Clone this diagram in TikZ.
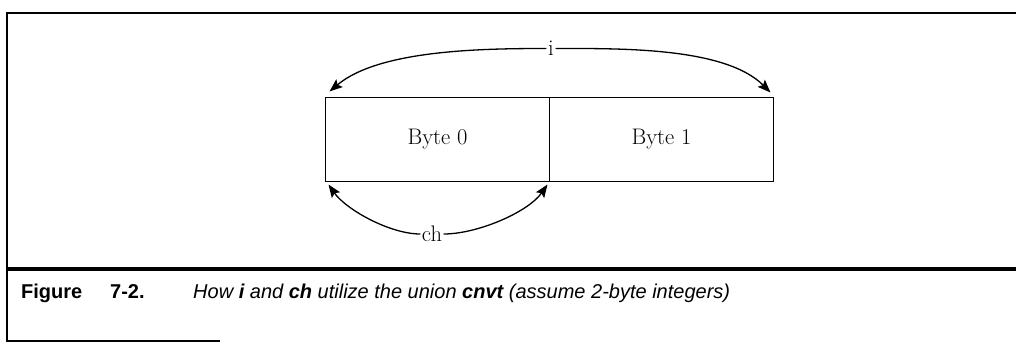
\documentclass[tikz,border=0pt]{standalone}
\usepackage{fontspec}
\newfontfamily\capfont{Liberation Sans}
\usetikzlibrary{calc,positioning,arrows.meta}

\tikzset{
  bytebox/.style={draw, line width=1.4pt, minimum width=224pt, minimum height=84pt,
                  inner sep=0pt, outer sep=0pt, font=\fontsize{22.5}{26}\selectfont},
  arclabel/.style={inner sep=1.5pt, font=\fontsize{22.5}{26}\selectfont},
  spanarc/.style={line width=1.3pt, looseness=0.75, -{Stealth[length=13pt,width=10pt,inset=2.5pt]}},
  captext/.style={anchor=base west, inner sep=0pt, font=\capfont\fontsize{20}{24}\selectfont},
}

\begin{document}
\begin{tikzpicture}[x=1pt,y=-1pt]
    \useasboundingbox (0,0) rectangle (1016,345);

    % frame round the figure
    \coordinate (frameTR) at (1016,13);
    \coordinate (frameTL) at (7,13);
    \coordinate (frameBL) at (7,341);
    \coordinate (frameBR) at (220,341);
    \coordinate (ruleL) at (7,269);
    \coordinate (ruleR) at (1016,269);
    \draw[line width=1.8pt] (frameTR) -- (frameTL) -- (frameBL) -- (frameBR);
    \draw[line width=3.4pt] (ruleL) -- (ruleR);

    % the two bytes
    \node[bytebox] (byte0) at (437.5,139.5) {Byte 0};
    \node[bytebox, right=0pt of byte0] (byte1) {Byte 1};

    % i spans both bytes
    \node[arclabel] (ilbl) at (551,48.5) {i};
    \coordinate (iL) at ($(byte0.north west)+(4,-6)$);
    \coordinate (iR) at ($(byte1.north east)+(-3,-5)$);
    \draw[spanarc] (ilbl.west) to[out=180, in=40] (iL);
    \draw[spanarc] (ilbl.east) to[out=0, in=135] (iR);

    % ch covers byte 0 only
    \node[arclabel] (chlbl) at (432,234) {ch};
    \coordinate (chL) at ($(byte0.south west)+(3,3)$);
    \coordinate (chR) at ($(byte0.south east)+(-2,3)$);
    \draw[spanarc] (chlbl.west) to[out=180, in=-55] (chL);
    \draw[spanarc] (chlbl.east) to[out=0, in=-125] (chR);

    % caption
    \node[captext] (capnum) at (21,298) {\bfseries Figure};
    \node[captext] (capfig) at (110,298) {\bfseries 7-2.};
    \node[captext] (captxt) at (193,298) {\itshape How \textbf{i} and \textbf{ch} utilize the union \textbf{cnvt} (assume 2-byte integers)};
\end{tikzpicture}
\end{document}
